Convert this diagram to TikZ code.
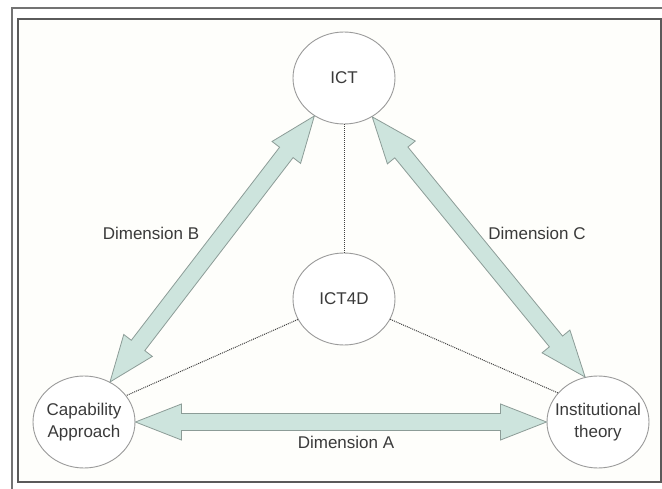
\documentclass[tikz,border=0pt]{standalone}
\usepackage{fontspec}
\setmainfont{Liberation Sans}
\usetikzlibrary{shapes.geometric,calc}

\definecolor{arrowfill}{HTML}{CDE4DD}
\definecolor{arrowline}{HTML}{8C9C97}
\definecolor{ringline}{HTML}{9A9A9A}
\definecolor{framecol}{HTML}{5A5A5A}
\definecolor{paper}{HTML}{FEFEFB}
\definecolor{inkcol}{HTML}{3A3A3A}

% block double arrow between two border points
\newcommand{\dimarrow}[2]{%
  \path (#1) -- (#2) coordinate[pos=0] (s) coordinate[pos=1] (e);
  \coordinate (h1) at ($(s)!46pt!(e)$);
  \coordinate (h2) at ($(e)!46pt!(s)$);
  \path[draw=arrowline, fill=arrowfill, line width=0.8pt]
    (s) -- ($(h1)!18pt!90:(e)$) -- ($(h1)!8.5pt!90:(e)$)
    -- ($(h2)!8.5pt!-90:(s)$) -- ($(h2)!18pt!-90:(s)$) -- (e)
    -- ($(h2)!18pt!90:(s)$) -- ($(h2)!8.5pt!90:(s)$)
    -- ($(h1)!8.5pt!-90:(e)$) -- ($(h1)!18pt!-90:(e)$) -- cycle;
}

\begin{document}
\begin{tikzpicture}[x=1pt, y=-1pt,
  ring/.style={draw=ringline, fill=white, ellipse, line width=0.9pt,
    minimum width=102pt, minimum height=92pt, inner sep=-9pt,
    align=center, text=inkcol, font=\fontsize{17}{22}\selectfont},
  dimlabel/.style={text=inkcol, font=\fontsize{17}{22}\selectfont},
  link/.style={densely dotted, line width=1pt, draw=black!75}]
\useasboundingbox (0,0) rectangle (662,489);
\clip (0,0) rectangle (662,489);
\fill[white] (0,0) rectangle (662,489);
\fill[paper] (18,19) rectangle (661,482);
\draw[framecol!85, line width=2.2pt] (12,8) rectangle (690,510);
\draw[framecol, line width=1.8pt] (18,19) rectangle (661,482);

\node[ring] (ict) at (344,78) {ICT};
\node[ring] (t4d) at (344,299) {ICT4D};
\node[ring] (cap) at (84,422) {Capability\\Approach};
\node[ring] (inst) at (598,422) {Institutional\\theory};

\path[draw,link] (ict) -- (t4d);
\path[draw,link] (t4d) -- (cap.32);
\path[draw,link] (t4d) -- (inst.144);

\dimarrow{cap.east}{inst.west}
\dimarrow{cap.57}{ict.232}
\dimarrow{ict.306}{inst.106}

\node[dimlabel] (dima) at (346,442) {Dimension A};
\node[dimlabel] (dimb) at (151,233) {Dimension B};
\node[dimlabel] (dimc) at (537,233) {Dimension C};
\end{tikzpicture}
\end{document}
